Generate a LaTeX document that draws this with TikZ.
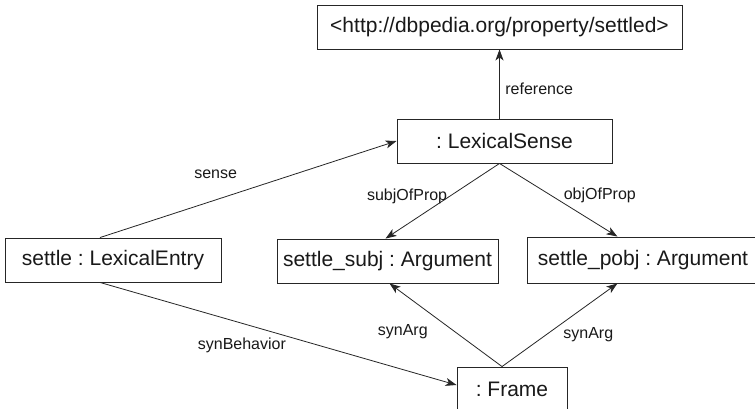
\documentclass[tikz,border=0pt]{standalone}
\usepackage{fontspec}
\setmainfont{Liberation Sans}
\usetikzlibrary{arrows.meta,calc}
\frenchspacing
\begin{document}
\begin{tikzpicture}[x=1pt,y=-1pt,
  box/.style={draw=black!85, line width=0.9pt, inner sep=0pt, minimum height=44pt,
    font=\fontsize{21}{25}\selectfont\frenchspacing, text=black!90},
  lbl/.style={inner sep=0pt, font=\fontsize{16}{19}\selectfont, text=black!90},
  conn/.style={draw=black!85, line width=0.8pt, -{Stealth[length=11pt,width=8pt,inset=3pt]}}]
\useasboundingbox[fill=white] (0,0) rectangle (755,408);
% boxes
\node[box, minimum width=365pt] (top) at (499.5,27) {<http://dbpedia.org/property/settled>};
\node[box, minimum width=215pt] (ls) at (504.5,141) {: LexicalSense\hspace{12pt}};
\node[box, minimum width=216pt] (le) at (113,260) {settle : LexicalEntry\hspace{5pt}};
\node[box, minimum width=221pt] (subj) at (387.5,261) {settle\_subj : Argument};
\node[box, minimum width=232pt, minimum height=46pt] (pobj) at (643,260) {settle\_pobj : Argument};
\node[box, minimum width=110pt] (fr) at (512,389) {: Frame};
% anchor points
\coordinate (lsB) at (ls.south -| top.south);
\coordinate (lsT) at (ls.north -| top.south);
\coordinate (pobjT) at ($(pobj.north west)!0.39!(pobj.north east)$);
\coordinate (pobjB) at ($(pobj.south west)!0.39!(pobj.south east)$);
\coordinate (frT) at ($(fr.north west)!0.41!(fr.north east)$);
\coordinate (leT) at ($(le.north west)!0.44!(le.north east)$);
\coordinate (leB) at ($(le.south west)!0.44!(le.south east)$);
\coordinate (frW) at ($(fr.west)+(0,-4)$);
% connectors
\draw[conn] (lsT) -- (top.south) node[lbl, pos=0.43, anchor=west, xshift=5.5pt] {reference};
\draw[conn] (leT) -- (ls.west) node[lbl, pos=0.39, yshift=26pt] {sense};
\draw[conn] (lsB) -- ($(subj.north)+(-2,0)$) node[lbl, pos=0.434, anchor=east, xshift=-2.5pt] {subjOfProp};
\draw[conn] (lsB) -- (pobjT) node[lbl, pos=0.432, anchor=west, xshift=13pt] {objOfProp};
\draw[conn] (frT) -- ($(subj.south)+(2,0)$) node[lbl, pos=0.417, anchor=east, xshift=-27pt] {synArg};
\draw[conn] (frT) -- (pobjB) node[lbl, pos=0.381, anchor=west, xshift=17pt] {synArg};
\draw[conn] (leB) -- (frW) node[lbl, pos=0.398, yshift=-21.6pt] {synBehavior};
\end{tikzpicture}
\end{document}
